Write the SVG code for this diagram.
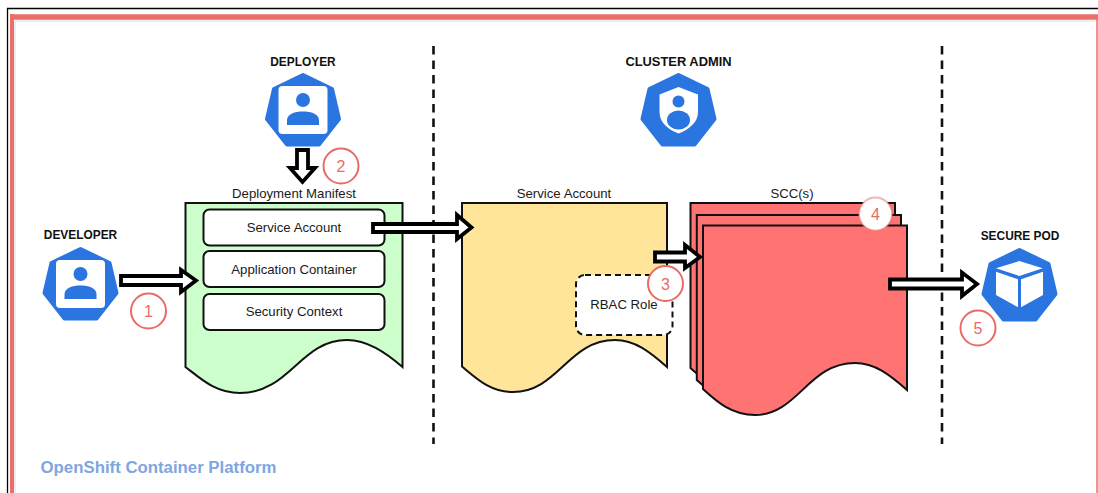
<svg xmlns="http://www.w3.org/2000/svg" width="1098" height="493" viewBox="0 0 1098 493">
<style>
text{font-family:"Liberation Sans",Arial,sans-serif;fill:#1a1a1a;text-anchor:middle}
.role{font-size:11.9px;font-weight:bold;fill:#111}
.lbl{font-size:13.2px}
.num{font-size:16px;fill:#ea6b66}
.doc{stroke:#111;stroke-width:2;stroke-linejoin:miter}
.box{fill:#fff;stroke:#111;stroke-width:2}
.arr{fill:#fff;stroke:#000;stroke-width:3.800;stroke-linejoin:miter}
.badge{stroke:#ea6b66;stroke-width:2;fill:#fff}
.div{stroke:#111;stroke-width:2.600;stroke-dasharray:8.500 6;fill:none}
.hep{fill:#2a75e0;stroke:#2a75e0;stroke-width:4;stroke-linejoin:round}
</style>
<defs>
<polygon id="hept" points="0,2 29,16 36,46 16,71.500 -16,71.500 -36,46 -29,16"/>
<g id="user">
<rect x="-24.500" y="13" width="49" height="48" rx="4" fill="#fff"/>
<circle cx="0" cy="27" r="7" fill="#2a75e0"/>
<path d="M-16 52V47C-16 41-8 38.500 0 38.500C8 38.500 16 41 16 47V52Z" fill="#2a75e0"/>
</g>
</defs>
<rect width="1098" height="493" fill="#fff"/>
<g id="frame" fill="none">
<path d="M7.500 493V8.500H1098" stroke="#000" stroke-width="1.300"/>
<path d="M15 493V21H1095.500" stroke="#dcdcdc" stroke-width="1"/>
<path d="M12 493V14" stroke="#ea6f6b" stroke-width="4"/>
<path d="M10 17H1098" stroke="#ea6f6b" stroke-width="5.500"/>
<path d="M1097 17V493" stroke="#ea6f6b" stroke-width="1.500"/>
</g>
<g id="dividers">
<path class="div" d="M433.500 46V444"/>
<path class="div" d="M942 46V444"/>
</g>
<g id="deployer">
<text class="role" x="303" y="65.500">DEPLOYER</text>
<g transform="translate(303,73)"><use href="#hept" class="hep"/><use href="#user"/></g>
</g>
<g id="developer">
<text class="role" x="80.500" y="239">DEVELOPER</text>
<g transform="translate(80.500,247)"><use href="#hept" class="hep"/><use href="#user"/></g>
</g>
<g id="cluster-admin">
<text class="role" x="678.500" y="65.500" style="font-size:12.900px">CLUSTER ADMIN</text>
<g transform="translate(678.500,73)"><use href="#hept" class="hep"/></g>
<path d="M678.500 87L698 94.500V112C698 122 690 129 678.500 133.500C667 129 659.500 122 659.500 112V94.500Z" fill="#fff"/>
<circle cx="678.500" cy="101.500" r="6" fill="#2a75e0"/>
<ellipse cx="678.500" cy="120" rx="11.500" ry="9.500" fill="#2a75e0"/>
</g>
<g id="secure-pod">
<text class="role" x="1020" y="240">SECURE POD</text>
<g transform="translate(1019.500,248)"><use href="#hept" class="hep"/></g>
<path d="M1019.300 261L1042.700 268.300L1019.300 276L996 268.300Z" fill="#fff"/>
<path d="M996 271.700L1018 279.300V307.300L996 295Z" fill="#fff"/>
<path d="M1043 271.700L1021 279.300V307.300L1043 295Z" fill="#fff"/>
</g>
<g id="deployment-manifest">
<text class="lbl" x="294" y="198">Deployment Manifest</text>
<path class="doc" fill="#ccffcc" d="M185.500 203H402.500V367C385 352 367 340 347 340C300 340 290 393 240 393C215 393 200 378 185.500 367Z"/>
<rect class="box" x="203.500" y="209.500" width="181" height="36" rx="6"/>
<text class="lbl" x="294" y="232">Service Account</text>
<rect class="box" x="203.500" y="251" width="181" height="36" rx="6"/>
<text class="lbl" x="294" y="273.500">Application Container</text>
<rect class="box" x="203.500" y="294" width="181" height="36" rx="6"/>
<text class="lbl" x="294" y="316">Security Context</text>
</g>
<g id="service-account">
<text class="lbl" x="564" y="198">Service Account</text>
<path class="doc" fill="#ffe599" d="M462 203H667V367C650 352 635 340 615 340C568 340 558 392 513 392C490 392 476 378 462 366.500Z"/>
</g>
<g id="sccs">
<text class="lbl" x="792" y="198">SCC(s)</text>
<path class="doc" fill="#ff7373" d="M690.500 203H895V368C878 352 860 341 842 341C795 341 785 393 740 393C717 393 704 380 690.500 368Z"/>
<path class="doc" fill="#ff7373" d="M696.800 215H901V380C884 364 866 353 848 353C801 353 791 405 746 405C723 405 710 392 696.800 380Z"/>
<path class="doc" fill="#ff7373" d="M703 225.500H907V390C890 375 875 363 855 363C808 363 798 415 755 415C732 415 717 402 703 389Z"/>
</g>
<g id="rbac-role">
<rect x="576" y="275" width="96.500" height="60" rx="9" fill="#fff" stroke="#111" stroke-width="2" stroke-dasharray="6 4"/>
<text class="lbl" x="624" y="309">RBAC Role</text>
</g>
<g id="connectors">
<polygon class="arr" points="121,276 181,276 181,270 196,280.500 181,292 181,285 121,285"/>
<polygon class="arr" points="297,150 308,150 308,168 315,168 302.500,182 290,168 297,168"/>
<polygon class="arr" points="373,224 457,224 457,215 471.500,227.500 457,239 457,232 373,232"/>
<polygon class="arr" points="655,252.500 685,252.500 685,245 700,257 685,268 685,261.500 655,261.500"/>
<polygon class="arr" points="890,279.500 962,279.500 962,272.500 977,284 962,296 962,288.500 890,288.500"/>
</g>
<g id="badge-1"><circle class="badge" cx="148.500" cy="311" r="17.500"/><text class="num" x="148.500" y="317">1</text></g>
<g id="badge-2"><circle class="badge" cx="341" cy="166" r="17.500"/><text class="num" x="341" y="172">2</text></g>
<g id="badge-3"><circle class="badge" cx="665.500" cy="283.500" r="17.500"/><text class="num" x="665.500" y="289.500">3</text></g>
<g id="badge-4"><circle class="badge" stroke-opacity=".5" cx="875.500" cy="214" r="16.500"/><text class="num" x="875.500" y="220">4</text></g>
<g id="badge-5"><circle class="badge" cx="978" cy="328" r="17.500"/><text class="num" x="978" y="334">5</text></g>
<text x="158.500" y="473" font-size="16.800" font-weight="bold" style="fill:#7ea6e0">OpenShift Container Platform</text>
</svg>
